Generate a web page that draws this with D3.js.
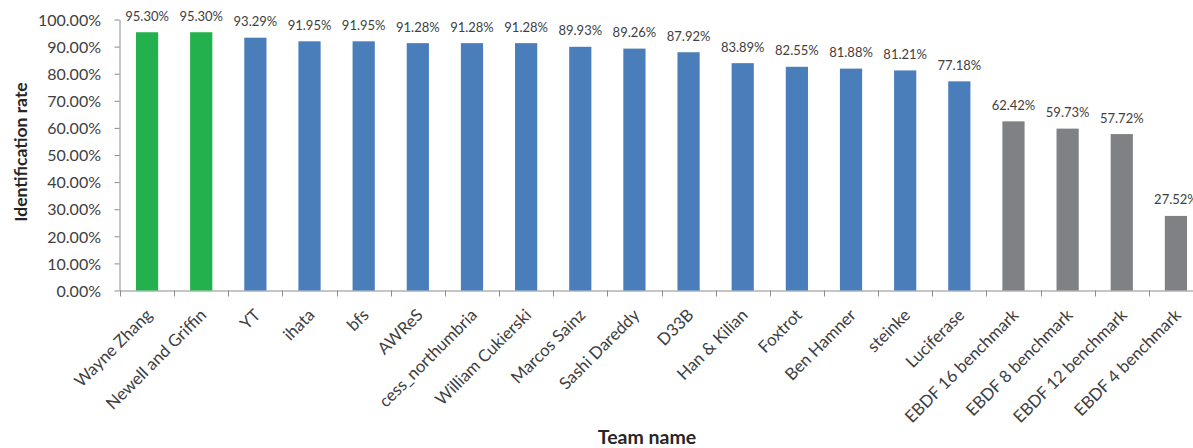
<!DOCTYPE html>
<html><head><meta charset="utf-8">
<script src="https://cdn.jsdelivr.net/npm/d3@7"></script>
<style>body{margin:0;background:#fff}svg{display:block}text{font-family:Lato,"Open Sans",sans-serif}</style>
</head><body><svg id="c" width="1193" height="448"></svg>
<script>
const categories = ["Wayne Zhang","Newell and Griffin","YT","ihata","bfs","AWReS","cess_northumbria","William Cukierski","Marcos Sainz","Sashi Dareddy","D33B","Han & Kilian","Foxtrot","Ben Hamner","steinke","Luciferase","EBDF 16 benchmark","EBDF 8 benchmark","EBDF 12 benchmark","EBDF 4 benchmark"];
const values = [95.30,95.30,93.29,91.95,91.95,91.28,91.28,91.28,89.93,89.26,87.92,83.89,82.55,81.88,81.21,77.18,62.42,59.73,57.72,27.52];
const groups = ["winner","winner","team","team","team","team","team","team","team","team","team","team","team","team","team","team","bench","bench","bench","bench"];
const yTicks = [0,10,20,30,40,50,60,70,80,90,100];
const colors = {winner:"#23b14d", team:"#4a7ebb", bench:"#808184"};

const svg = d3.select("#c");
const x = d3.scaleBand().domain(categories).range([120, 1203]).paddingInner(0.59).paddingOuter(0.295);
const y = d3.scaleLinear().domain([0,100]).range([290.5, 19.5]);
const axisColor = "#8c8c8c";

// y axis
const ya = svg.append("g").attr("transform","translate(119.5,0)")
  .call(d3.axisLeft(y).tickValues(yTicks).tickSize(5).tickSizeOuter(0).tickFormat(d=>d.toFixed(2)+"%"));
ya.select(".domain").attr("stroke",axisColor);
ya.selectAll(".tick line").attr("stroke",axisColor);
ya.selectAll(".tick text").attr("fill","#404040").style("font-size","16px").attr("x",-18.5).attr("dy","0.36em");

// x axis
const xa = svg.append("g").attr("transform","translate(0,290.5)")
  .call(d3.axisBottom(x).tickSize(0).tickSizeOuter(0).tickFormat(""));
xa.select(".domain").attr("stroke",axisColor);
xa.selectAll(".tick line").remove();
const bw = x.step();
const tickPos = d3.range(categories.length+1).map(i => 120 + i*bw);
svg.append("g").selectAll("line").data(tickPos).join("line")
  .attr("x1",d=>Math.round(d)+0.5).attr("x2",d=>Math.round(d)+0.5).attr("y1",290.5).attr("y2",296.5).attr("stroke",axisColor);

// bars
svg.append("g").selectAll("rect").data(categories).join("rect")
  .attr("x",d=>x(d)).attr("width",x.bandwidth())
  .attr("y",(d,i)=>y(values[i])).attr("height",(d,i)=>y(0)-y(values[i]))
  .attr("fill",(d,i)=>colors[groups[i]]);

// value labels
svg.append("g").selectAll("text").data(categories).join("text")
  .attr("x",d=>x(d)+x.bandwidth()/2).attr("y",(d,i)=>y(values[i])-11.5)
  .attr("text-anchor","middle").attr("fill","#404040").style("font-size","13px")
  .text((d,i)=>values[i].toFixed(2)+"%");

// category labels
svg.append("g").selectAll("text").data(categories).join("text")
  .attr("transform",d=>`translate(${x(d)+x.bandwidth()/2+2},${312}) rotate(-45)`)
  .attr("text-anchor","end").attr("dy","0.35em").attr("fill","#404040").style("font-size","16.8px")
  .text(d=>d);

// axis titles
svg.append("text").attr("transform","translate(27,152) rotate(-90)").attr("text-anchor","middle")
  .attr("fill","#262626").style("font-size","17.5px").style("font-weight","bold").text("Identification rate");
svg.append("text").attr("x",647).attr("y",444).attr("text-anchor","middle")
  .attr("fill","#262626").style("font-size","19.5px").style("font-weight","bold").text("Team name");
</script></body></html>
